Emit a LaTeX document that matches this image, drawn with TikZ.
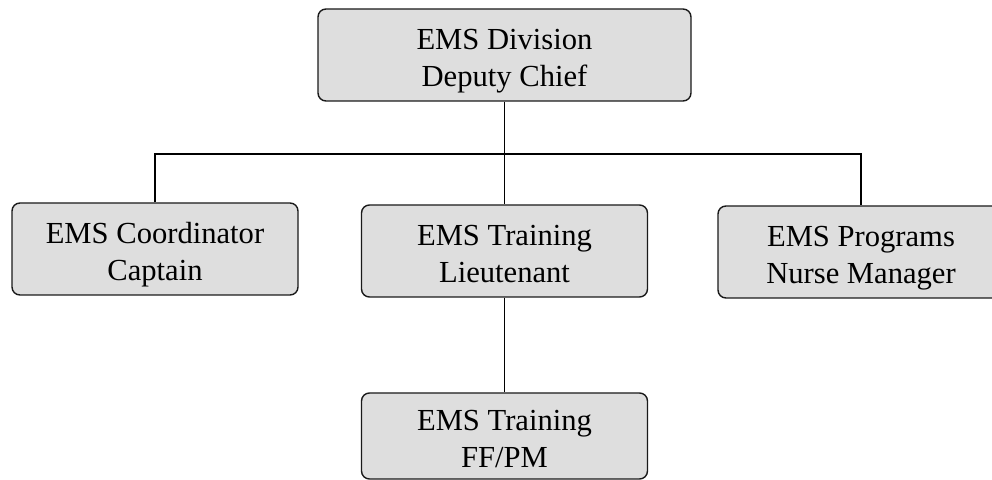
\documentclass[tikz,border=0pt]{standalone}
\usepackage{fontspec}
\setmainfont{Liberation Serif}
\usepackage{tikz}
\usetikzlibrary{positioning, calc}
\definecolor{boxfill}{HTML}{DEDEDE}
\definecolor{boxline}{HTML}{1A1A1A}
\newcommand{\twolines}[2]{\rule{0pt}{16.35pt}#1\\#2\rule[-3.5pt]{0pt}{3.5pt}}
\tikzset{
  orgbox/.style={rectangle, rounded corners=4pt, draw=boxline, fill=boxfill,
                 line width=0.7pt, minimum width=#1, minimum height=46pt,
                 align=center, inner sep=0pt,
                 font=\fontsize{15.3pt}{18.35pt}\selectfont},
  orgbox/.default=143pt,
  link/.style={line width=0.9pt, black},
}

\begin{document}
\begin{tikzpicture}[x=0.5pt, y=-0.5pt]
  \clip (0,0) rectangle (992,480);

  \node[orgbox=186.5pt] (chief) at (504.5,55) {\twolines{EMS Division}{Deputy Chief}};

  \node[orgbox] (coord) at (155,249) {\twolines{EMS Coordinator}{Captain}};
  \node[orgbox] (training) at (504.5,251) {\twolines{EMS Training}{Lieutenant}};
  \node[orgbox] (programs) at (861,252) {\twolines{EMS Programs}{Nurse Manager}};

  \node[orgbox, minimum height=43pt] (ffpm) at (504.5,436) {\twolines{EMS Training}{FF/PM}};

  \coordinate (bus) at (504.5,154);
  \draw[link] (chief.south) -- (training.north);
  \draw[link] (coord.north) |- (bus) -| (programs.north);
  \draw[link] (training.south) -- (ffpm.north);
\end{tikzpicture}
\end{document}
